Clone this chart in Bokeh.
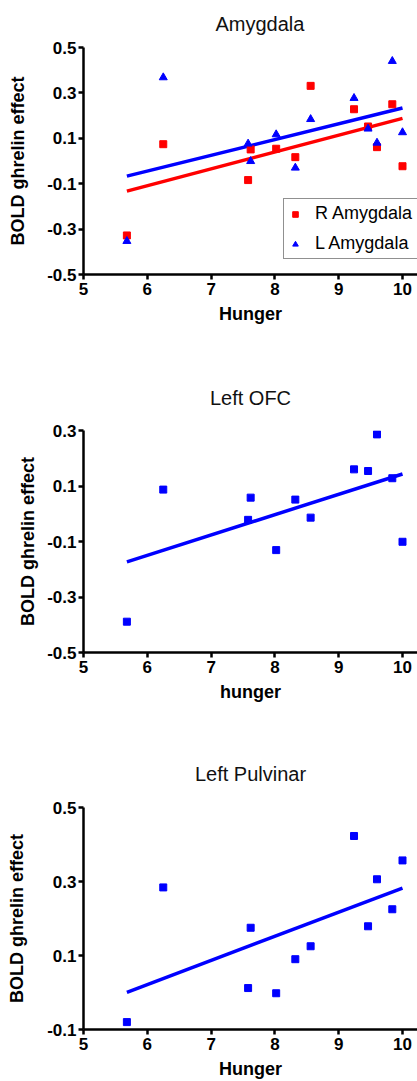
import numpy as np
from bokeh.plotting import figure
from bokeh.layouts import column
from bokeh.models import Range1d, FixedTicker, Legend, LegendItem
from bokeh.embed import file_html
from bokeh.resources import INLINE

# ---- data ----
hunger = [5.68, 6.25, 7.58, 7.62, 8.02, 8.32, 8.56, 9.24, 9.46, 9.60, 9.84, 10.0]
r_amygdala = [-0.328, 0.074, -0.084, 0.051, 0.054, 0.017, 0.331, 0.228, 0.152, 0.061, 0.250, -0.023]
l_amygdala = [-0.353, 0.368, 0.076, -0.001, 0.117, -0.030, 0.184, 0.277, 0.142, 0.080, 0.440, 0.126]
left_ofc = [-0.389, 0.087, -0.022, 0.058, -0.131, 0.051, -0.014, 0.160, 0.154, 0.286, 0.128, -0.101]
left_pulvinar = [-0.080, 0.284, 0.012, 0.175, -0.002, 0.090, 0.125, 0.423, 0.179, 0.306, 0.225, 0.357]

x_ticks = [5, 6, 7, 8, 9, 10]
x_tick_labels = ["5", "6", "7", "8", "9", "10"]
y_ticks_amyg = [-0.5, -0.3, -0.1, 0.1, 0.3, 0.5]
y_labels_amyg = ["-0.5", "-0.3", "-0.1", "0.1", "0.3", "0.5"]
y_ticks_ofc = [-0.5, -0.3, -0.1, 0.1, 0.3]
y_labels_ofc = ["-0.5", "-0.3", "-0.1", "0.1", "0.3"]
y_ticks_pulv = [-0.1, 0.1, 0.3, 0.5]
y_labels_pulv = ["-0.1", "0.1", "0.3", "0.5"]

RED = "#FF0000"
BLUE = "#0000FF"
FONT = "Liberation Sans"


def fit_line(x, y):
    slope, intercept = np.polyfit(x, y, 1)
    xs = np.array([min(x), max(x)])
    return xs, slope * xs + intercept


def make_fig(title, height, top, bottom, yr, yticks, ylabels, xlabel,
             title_align, title_offset, title_standoff, ylabel_standoff):
    p = figure(width=417, height=height, x_range=Range1d(5, 10.235),
               y_range=Range1d(*yr), output_backend="svg",
               toolbar_location=None, tools="",
               min_border_left=83, min_border_right=0,
               min_border_top=top, min_border_bottom=bottom)
    p.title.text = title
    p.title.align = title_align
    p.title.vertical_align = "top"
    p.title.text_font = FONT
    p.title.text_font_style = "normal"
    p.title.text_font_size = "20px"
    p.title.text_color = "#111111"
    p.title.offset = title_offset
    p.title.standoff = title_standoff
    p.outline_line_color = None
    p.grid.visible = False
    p.background_fill_color = "white"
    p.border_fill_color = "white"

    for ax in (p.xaxis[0], p.yaxis[0]):
        ax.axis_line_width = 2.5
        ax.axis_line_color = "black"
        ax.major_tick_line_width = 2.5
        ax.major_tick_line_color = "black"
        ax.major_tick_in = 0
        ax.major_tick_out = 5
        ax.minor_tick_line_color = None
        ax.major_label_text_font = FONT
        ax.major_label_text_font_style = "bold"
        ax.major_label_text_font_size = "17px"
        ax.major_label_text_color = "black"
        ax.axis_label_text_font = FONT
        ax.axis_label_text_font_style = "bold"
        ax.axis_label_text_font_size = "18px"
        ax.axis_label_text_color = "black"

    p.xaxis[0].ticker = FixedTicker(ticks=x_ticks)
    p.xaxis[0].major_label_overrides = dict(zip(x_ticks, x_tick_labels))
    p.xaxis[0].axis_label = xlabel
    p.xaxis[0].major_label_standoff = 3
    p.xaxis[0].axis_label_standoff = 6

    p.yaxis[0].ticker = FixedTicker(ticks=yticks)
    p.yaxis[0].major_label_overrides = dict(zip(yticks, ylabels))
    p.yaxis[0].axis_label = "BOLD ghrelin effect"
    p.yaxis[0].major_label_standoff = 2
    p.yaxis[0].axis_label_standoff = ylabel_standoff
    return p


# ---- Panel 1: Amygdala ----
p1 = make_fig("Amygdala", 360, 47, 86, (-0.5, 0.5), y_ticks_amyg, y_labels_amyg,
              "Hunger", "left", 132, 22, 16)
xs, ys = fit_line(hunger, r_amygdala)
p1.line(xs, ys, line_color=RED, line_width=3.5)
xs, ys = fit_line(hunger, l_amygdala)
p1.line(xs, ys, line_color=BLUE, line_width=3.5)
r_sc = p1.scatter(hunger, r_amygdala, marker="square", size=7,
                  fill_color=RED, line_color=RED)
l_sc = p1.scatter(hunger, l_amygdala, marker="triangle", size=8,
                  fill_color=BLUE, line_color=BLUE)
legend = Legend(items=[LegendItem(label="R Amygdala", renderers=[r_sc]),
                       LegendItem(label="L Amygdala", renderers=[l_sc])],
                location=(200, 15))
legend.label_text_font = FONT
legend.label_text_font_size = "18px"
legend.label_text_color = "black"
legend.glyph_width = 14
legend.glyph_height = 14
legend.label_height = 18
legend.label_width = 115
legend.label_standoff = 13
legend.padding = 4
legend.spacing = 9
legend.margin = 0
legend.border_line_color = "#222222"
legend.border_line_width = 1.5
legend.background_fill_alpha = 1.0
p1.add_layout(legend, "center")

# ---- Panel 2: Left OFC ----
p2 = make_fig("Left OFC", 380, 70, 88, (-0.5, 0.3), y_ticks_ofc, y_labels_ofc,
              "hunger", "center", 0, 39, 6)
xs, ys = fit_line(hunger, left_ofc)
p2.line(xs, ys, line_color=BLUE, line_width=3.5)
p2.scatter(hunger, left_ofc, marker="square", size=7,
           fill_color=BLUE, line_color=BLUE)

# ---- Panel 3: Left Pulvinar ----
p3 = make_fig("Left Pulvinar", 341, 67, 52, (-0.1, 0.5), y_ticks_pulv, y_labels_pulv,
              "Hunger", "center", 0, 41, 17)
xs, ys = fit_line(hunger, left_pulvinar)
p3.line(xs, ys, line_color=BLUE, line_width=3.5)
p3.scatter(hunger, left_pulvinar, marker="square", size=7,
           fill_color=BLUE, line_color=BLUE)

layout = column(p1, p2, p3, spacing=0)
open("out.html", "w").write(file_html(layout, INLINE))
